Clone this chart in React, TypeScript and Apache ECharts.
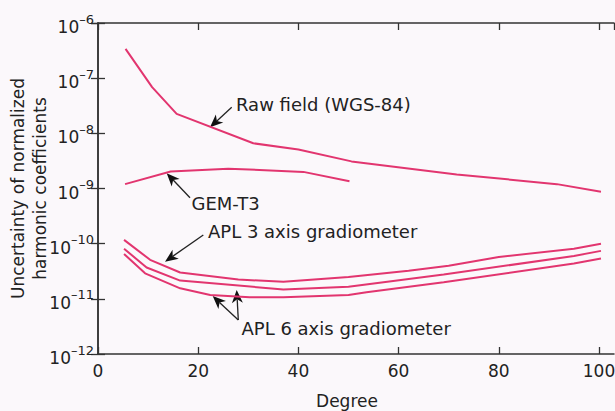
import React, { useEffect, useRef } from "react";
import * as echarts from "echarts";

// ---- data (degree, uncertainty) ----
const rawDeg = [5.5, 10.8, 15.7, 31, 40, 50.6, 71.6, 91.6, 100.4];
const rawVal = [3.4e-7, 6.9e-8, 2.25e-8, 6.6e-9, 5.1e-9, 3.1e-9, 1.8e-9, 1.2e-9, 8.7e-10];

const gemDeg = [5.4, 14.5, 26, 41, 50.2];
const gemVal = [1.2e-9, 2.04e-9, 2.29e-9, 2.0e-9, 1.35e-9];

const apl3Deg = [5.2, 10.4, 16.4, 28, 37, 50, 62, 70, 80, 95, 100.4];
const apl3Val = [1.17e-10, 5.1e-11, 3.0e-11, 2.24e-11, 2.04e-11, 2.5e-11, 3.24e-11, 3.98e-11, 5.75e-11, 8.1e-11, 1.0e-10];

const apl6aDeg = [5.2, 9.7, 16.4, 37, 50, 69, 95, 100.4];
const apl6aVal = [8.1e-11, 3.7e-11, 2.14e-11, 1.48e-11, 1.66e-11, 2.75e-11, 6.0e-11, 7.4e-11];

const apl6bDeg = [5.2, 9.4, 16.4, 22.4, 30.3, 37, 50, 53.6, 69, 95, 100.4];
const apl6bVal = [6.5e-11, 2.9e-11, 1.55e-11, 1.17e-11, 1.07e-11, 1.07e-11, 1.17e-11, 1.32e-11, 2.0e-11, 4.37e-11, 5.4e-11];

const xTicks = [0, 20, 40, 60, 80, 100];
const yMin = 1e-12;
const yMax = 1e-6;

const FONT = "'DejaVu Sans', 'Liberation Sans', Arial, sans-serif";
const LINE = "#e2356f";
const INK = "#222";
const BG = "#fbf8fb";

function pairs(xs: number[], ys: number[]) {
  return xs.map((x, i) => [x, ys[i]]);
}

function arrow(x1: number, y1: number, x2: number, y2: number) {
  const dx = x2 - x1;
  const dy = y2 - y1;
  const L = Math.hypot(dx, dy);
  const ux = dx / L;
  const uy = dy / L;
  const hl = 13;
  const hw = 5.5;
  const bx = x2 - ux * hl;
  const by = y2 - uy * hl;
  const nx = -uy;
  const ny = ux;
  const mx = x2 - ux * hl * 0.72;
  const my = y2 - uy * hl * 0.72;
  return [
    { type: "line", silent: true, shape: { x1, y1, x2: mx, y2: my }, style: { stroke: INK, lineWidth: 1.3 } },
    {
      type: "polygon",
      silent: true,
      shape: { points: [[x2, y2], [bx + nx * hw, by + ny * hw], [mx, my], [bx - nx * hw, by - ny * hw]] },
      style: { fill: "#111" },
    },
  ];
}

function label(text: string, x: number, y: number) {
  return {
    type: "text",
    silent: true,
    x,
    y,
    style: { text, fill: INK, font: `18px ${FONT}`, verticalAlign: "middle", align: "left" },
  };
}

export default function App() {
  const ref = useRef<HTMLDivElement>(null);
  useEffect(() => {
    document.body.style.margin = "0";
    document.body.style.background = BG;
    if (!ref.current) return;
    const chart = echarts.init(ref.current, undefined, { renderer: "svg" });
    const axisLine = { show: true, lineStyle: { color: "#333", width: 1.5 } };
    const tick = { show: true, inside: true, length: 7, lineStyle: { color: "#333", width: 1.3 } };
    const series = [
      pairs(rawDeg, rawVal),
      pairs(gemDeg, gemVal),
      pairs(apl3Deg, apl3Val),
      pairs(apl6aDeg, apl6aVal),
      pairs(apl6bDeg, apl6bVal),
    ].map((d) => ({
      type: "line",
      data: d,
      showSymbol: false,
      symbol: "none",
      lineStyle: { color: LINE, width: 2 },
      xAxisIndex: 0,
      yAxisIndex: 0,
    }));
    chart.setOption({
      animation: false,
      backgroundColor: BG,
      grid: { left: 98, right: 1, top: 23, bottom: 57, outerBoundsMode: "none" },
      xAxis: [
        {
          type: "value",
          min: 0,
          max: 103,
          interval: 20,
          position: "bottom",
          axisLine,
          axisTick: tick,
          splitLine: { show: false },
          axisLabel: {
            margin: 8,
            color: INK,
            fontSize: 17,
            fontFamily: FONT,
            showMaxLabel: false,
            formatter: (v: number) => (xTicks.includes(v) ? String(v) : ""),
          },
        },
        {
          type: "value",
          min: 0,
          max: 103,
          interval: 20,
          position: "top",
          axisLine,
          axisTick: tick,
          splitLine: { show: false },
          axisLabel: { show: false },
        },
      ],
      yAxis: [
        {
          type: "log",
          logBase: 10,
          min: yMin,
          max: yMax,
          interval: 1,
          splitNumber: 6,
          position: "left",
          axisLine,
          axisTick: tick,
          minorTick: { show: false },
          splitLine: { show: false },
          name: "Uncertainty of normalized\nharmonic coefficients",
          nameLocation: "middle",
          nameGap: 47,
          nameRotate: 90,
          nameMoveOverlap: false,
          nameTextStyle: { color: INK, fontSize: 17, fontFamily: FONT, lineHeight: 22 },
          axisLabel: {
            margin: 4,
            color: INK,
            formatter: (v: number) => `{b|10}{s|–${Math.round(-Math.log10(v))}}`,
            rich: {
              b: { fontSize: 17, fontFamily: FONT, color: INK, padding: [8, 0, 0, 0] },
              s: { fontSize: 13, fontFamily: FONT, color: INK, padding: [0, 0, 8, 0] },
            },
          },
        },
        {
          type: "log",
          logBase: 10,
          min: yMin,
          max: yMax,
          interval: 1,
          splitNumber: 6,
          position: "right",
          axisLine,
          axisTick: tick,
          minorTick: { show: false },
          splitLine: { show: false },
          axisLabel: { show: false },
        },
      ],
      series,
      graphic: [
        ...arrow(231.7, 107.3, 210, 127.3),
        ...arrow(190, 197.7, 166.7, 173.3),
        ...arrow(203.3, 235, 165, 261.7),
        ...arrow(238.3, 320, 212.7, 296),
        ...arrow(238.3, 320, 236.7, 290),
        label("Raw field (WGS-84)", 236, 104),
        label("GEM-T3", 191.5, 203.5),
        label("APL 3 axis gradiometer", 208, 231),
        label("APL 6 axis gradiometer", 241.5, 328),
        {
          type: "text",
          silent: true,
          x: 347,
          y: 401,
          style: { text: "Degree", fill: INK, font: `17px ${FONT}`, align: "center", verticalAlign: "middle" },
        },
      ],
    });
    return () => chart.dispose();
  }, []);
  return <div ref={ref} style={{ width: 615, height: 411 }} />;
}
